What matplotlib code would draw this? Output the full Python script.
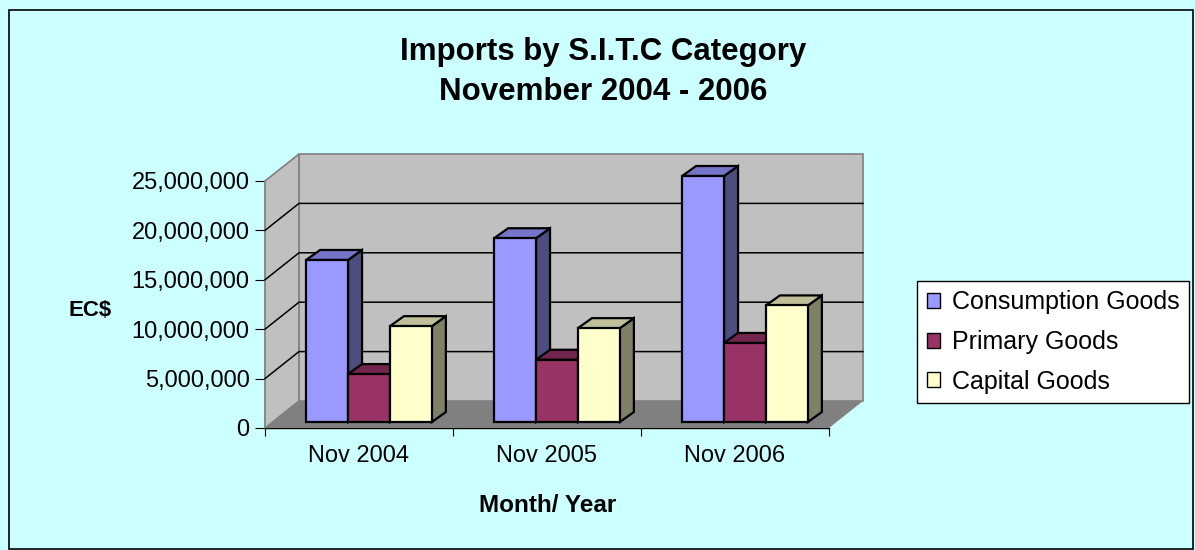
import numpy as np
import matplotlib
matplotlib.use("Agg")
import matplotlib.pyplot as plt
from matplotlib.patches import Polygon, Rectangle, Patch
from matplotlib.ticker import FuncFormatter

plt.rcParams['font.family'] = ['Liberation Sans', 'DejaVu Sans']

# Daten
monate = ["Nov 2004", "Nov 2005", "Nov 2006"]
serien = ["Consumption Goods", "Primary Goods", "Capital Goods"]
consumption = [16.4e6, 18.6e6, 24.9e6]
primary = [4.85e6, 6.3e6, 8.0e6]
capital = [9.7e6, 9.5e6, 11.8e6]
werte = [consumption, primary, capital]

# Farben: Front, Deckel, Seite
farben = [("#9999FF", "#7474C9", "#4D4D80"),
          ("#993366", "#73264D", "#4D1A33"),
          ("#FFFFCC", "#BFBF99", "#808066")]

W, H = 1195, 550
fig = plt.figure(figsize=(W / 100, H / 100), dpi=100, facecolor="#CCFFFF")
ax = fig.add_axes([265 / W, (H - 428) / H, 564 / W, 247 / H])
ax.set_xlim(0, 3)
ax.set_ylim(0, 25e6)
ax.patch.set_visible(False)

# Tiefe der Wand in Pixeln
tief = np.array([34, 27])


def px(x, y, off=(0, 0)):
    return ax.transData.transform((x, y)) + np.array(off)


def poly(punkte, farbe, kante="none", lw=0, z=1):
    p = Polygon(punkte, closed=True, facecolor=farbe, edgecolor=kante,
                linewidth=lw, transform=None, zorder=z, clip_on=False)
    fig.add_artist(p)


# Wände und Boden
poly([px(0, 0, tief), px(3, 0, tief), px(3, 25e6, tief), px(0, 25e6, tief)],
     "#C0C0C0", "#808080", 1.2, z=0.5)
poly([px(0, 0), px(0, 0, tief), px(0, 25e6, tief), px(0, 25e6)],
     "#C0C0C0", "#808080", 1.2, z=0.5)
poly([px(0, 0), px(3, 0), px(3, 0, tief), px(0, 0, tief)], "#808080", z=0.6)

for g in [5e6, 10e6, 15e6, 20e6]:
    a, b, c = px(0, g), px(0, g, tief), px(3, g, tief)
    fig.add_artist(plt.Line2D([a[0], b[0], c[0]], [a[1], b[1], c[1]],
                              color="black", lw=1.1, transform=None, zorder=0.7))

# Balken
breite = 0.223
vorn = (10, 6)
tiefe_balken = (14, 10)
z = 2
for i in range(len(monate)):
    for j, serie in enumerate(werte):
        x0 = i + 0.5 - 1.5 * breite + j * breite
        x1 = x0 + breite
        h = serie[i]
        bl, br = px(x0, 0, vorn), px(x1, 0, vorn)
        tl, tr = px(x0, h, vorn), px(x1, h, vorn)
        d = np.array(tiefe_balken)
        front, deckel, seite = farben[j]
        poly([br, br + d, tr + d, tr], seite, "black", 1.6, z)
        poly([tl, tr, tr + d, tl + d], deckel, "black", 1.6, z)
        poly([bl, br, tr, tl], front, "black", 1.6, z)
        z += 1

# Achsen
for s in ["top", "right"]:
    ax.spines[s].set_visible(False)
for s in ["left", "bottom"]:
    ax.spines[s].set_zorder(50)
    ax.spines[s].set_linewidth(1.0)
ax.set_yticks(np.arange(0, 25e6 + 1, 5e6))
ax.yaxis.set_major_formatter(FuncFormatter(lambda v, p: f"{v:,.0f}"))
ax.set_xticks([0, 1, 2, 3])
ax.set_xticklabels([])
ax.set_xticks([0.5, 1.5, 2.5], minor=True)
ax.set_xticklabels(monate, minor=True)
ax.tick_params(axis="x", which="minor", length=0, labelsize=17, pad=12)
ax.tick_params(axis="x", which="major", length=6, direction="out")
ax.tick_params(axis="y", length=7, direction="out", labelsize=17, pad=4)

fig.text(90 / W, 1 - 310 / H, "EC$", fontsize=16, fontweight="bold",
         ha="center", va="center")
fig.text(548 / W, 1 - 505 / H, "Month/ Year", fontsize=17.5, fontweight="bold",
         ha="center", va="center")
fig.text(603 / W, 1 - 72 / H, "Imports by S.I.T.C Category\nNovember 2004 - 2006",
         fontsize=22.5, fontweight="bold", ha="center", va="center",
         linespacing=1.45)

# Legende
handles = [Patch(facecolor=f[0], edgecolor="black", linewidth=1) for f in farben]
leg = fig.legend(handles, serien, loc="center left",
                 bbox_to_anchor=(917 / W, 1 - 342 / H), fontsize=18,
                 frameon=True, fancybox=False, edgecolor="black",
                 framealpha=1, facecolor="white",
                 handlelength=0.55, handleheight=0.55, handletextpad=0.45,
                 labelspacing=0.62, borderpad=0.38, borderaxespad=0)
leg.get_frame().set_linewidth(1.0)

# Rahmen
fig.add_artist(Rectangle((9 / W, 1 / H), 1184 / W, 539 / H, fill=False,
                         edgecolor="black", lw=1.2, transform=fig.transFigure))

fig.savefig("out.png", dpi=100, facecolor=fig.get_facecolor())
